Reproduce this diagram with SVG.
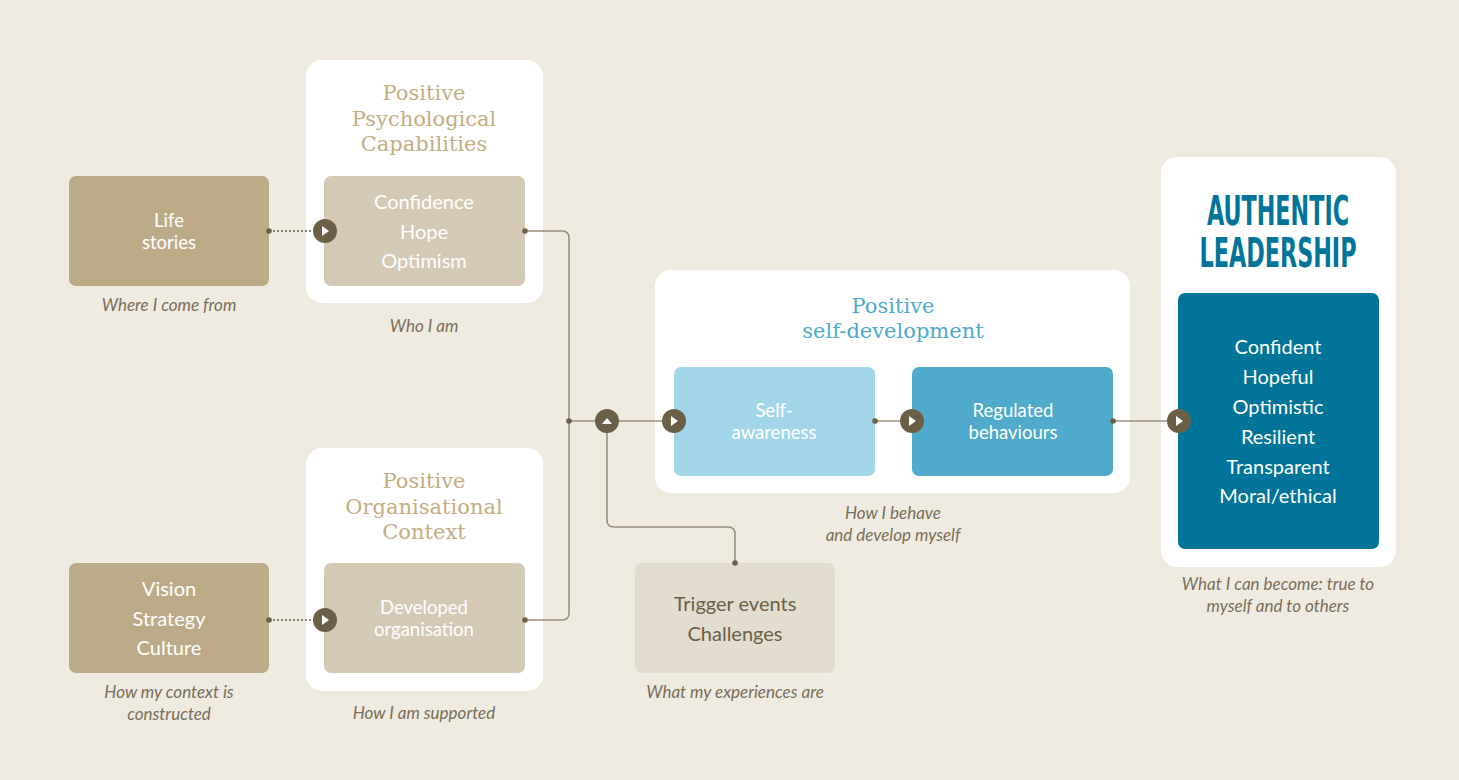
<svg xmlns="http://www.w3.org/2000/svg" width="1459" height="780" viewBox="0 0 1459 780">
<defs>
<style>
.panel{fill:#ffffff}
.tan{fill:#BDAB88}
.ltan{fill:#D4C9B4}
.pale{fill:#E3DDCF}
.t{font-family:Lato,"Open Sans",sans-serif;font-size:20px;text-anchor:middle}
.t2{font-family:Lato,"Open Sans",sans-serif;font-size:18.5px;text-anchor:middle}
.w{fill:#ffffff}
.lbl{font-family:Lato,"Open Sans",sans-serif;font-style:italic;font-size:17px;fill:#7A6E5A;text-anchor:middle}
.hd{font-family:"DejaVu Serif","Liberation Serif",serif;font-size:21px;fill:#C4AD83;text-anchor:middle}
.hdb{font-family:"DejaVu Serif","Liberation Serif",serif;font-size:21px;fill:#4DAACC;text-anchor:middle}
.ln{fill:none;stroke:#9A8F7C;stroke-width:1.6}
.dot{fill:#6B5F48}
.circ{fill:#6B5F48}
.arr{fill:#ffffff}
.al{font-family:"DejaVu Sans Condensed","DejaVu Sans",sans-serif;font-weight:bold;font-size:40px;fill:#007599;text-anchor:middle}
</style>
</defs>
<rect width="1459" height="780" fill="#EFEBE1"/>

<g id="panel-capabilities">
<rect class="panel" x="306" y="60" width="237" height="243" rx="16"/>
<text class="hd" x="424" y="100">Positive</text>
<text class="hd" x="424" y="126">Psychological</text>
<text class="hd" x="424" y="151">Capabilities</text>
<rect class="ltan" x="324" y="176" width="201" height="110" rx="7"/>
<text class="t w" x="424" y="209">Confidence</text>
<text class="t w" x="424" y="239">Hope</text>
<text class="t w" x="424" y="268">Optimism</text>
<text class="lbl" x="424" y="332">Who I am</text>
</g>

<g id="panel-context">
<rect class="panel" x="306" y="448" width="237" height="243" rx="16"/>
<text class="hd" x="424" y="488">Positive</text>
<text class="hd" x="424" y="514">Organisational</text>
<text class="hd" x="424" y="539">Context</text>
<rect class="ltan" x="324" y="563" width="201" height="110" rx="7"/>
<text class="t2 w" x="424" y="614">Developed</text>
<text class="t2 w" x="424" y="636">organisation</text>
<text class="lbl" x="424" y="719">How I am supported</text>
</g>

<g id="life-stories">
<rect class="tan" x="69" y="176" width="200" height="110" rx="7"/>
<text class="t2 w" x="169" y="227">Life</text>
<text class="t2 w" x="169" y="249">stories</text>
<text class="lbl" x="169" y="311">Where I come from</text>
</g>

<g id="vision">
<rect class="tan" x="69" y="563" width="200" height="110" rx="7"/>
<text class="t w" x="169" y="596">Vision</text>
<text class="t w" x="169" y="626">Strategy</text>
<text class="t w" x="169" y="655">Culture</text>
<text class="lbl" x="169" y="698">How my context is</text>
<text class="lbl" x="169" y="720">constructed</text>
</g>

<g id="panel-selfdev">
<rect class="panel" x="655" y="270" width="475" height="223" rx="16"/>
<text class="hdb" x="893" y="313">Positive</text>
<text class="hdb" x="893" y="338">self-development</text>
<rect fill="#A0D6E8" x="674" y="367" width="201" height="109" rx="7"/>
<text class="t2 w" x="774" y="417">Self-</text>
<text class="t2 w" x="774" y="439">awareness</text>
<rect fill="#50AACC" x="912" y="367" width="201" height="109" rx="7"/>
<text class="t2 w" x="1013" y="417">Regulated</text>
<text class="t2 w" x="1013" y="439">behaviours</text>
<text class="lbl" x="893" y="519">How I behave</text>
<text class="lbl" x="893" y="541">and develop myself</text>
</g>

<g id="trigger">
<rect class="pale" x="635" y="563" width="200" height="110" rx="7"/>
<text class="t" fill="#6B5F48" x="735" y="611">Trigger events</text>
<text class="t" fill="#6B5F48" x="735" y="641">Challenges</text>
<text class="lbl" x="735" y="698">What my experiences are</text>
</g>

<g id="panel-authentic">
<rect class="panel" x="1161" y="157" width="235" height="410" rx="16"/>
<text class="al" x="1278" y="225" textLength="142" lengthAdjust="spacingAndGlyphs">AUTHENTIC</text>
<text class="al" x="1278" y="267" textLength="157" lengthAdjust="spacingAndGlyphs">LEADERSHIP</text>
<rect fill="#007599" x="1178" y="293" width="201" height="256" rx="7"/>
<text class="t w" x="1278" y="354">Confident</text>
<text class="t w" x="1278" y="384">Hopeful</text>
<text class="t w" x="1278" y="414">Optimistic</text>
<text class="t w" x="1278" y="444">Resilient</text>
<text class="t w" x="1278" y="474">Transparent</text>
<text class="t w" x="1278" y="503">Moral/ethical</text>
<text class="lbl" x="1278" y="590">What I can become: true to</text>
<text class="lbl" x="1278" y="612">myself and to others</text>
</g>

<g id="connectors">
<line x1="269" y1="231" x2="313" y2="231" stroke="#6B5F48" stroke-width="1.6" stroke-dasharray="2,2"/>
<line x1="269" y1="620" x2="313" y2="620" stroke="#6B5F48" stroke-width="1.6" stroke-dasharray="2,2"/>
<path class="ln" d="M525,231 H562 Q569,231 569,238 V613 Q569,620 562,620 H525"/>
<path class="ln" d="M569,421 H674"/>
<path class="ln" d="M875,421 H912"/>
<path class="ln" d="M1113,421 H1179"/>
<path class="ln" d="M607,421 V520 Q607,527 614,527 H728 Q735,527 735,534 V563"/>
<circle class="dot" cx="269" cy="231" r="2.8"/>
<circle class="dot" cx="269" cy="620" r="2.8"/>
<circle class="dot" cx="525" cy="231" r="2.8"/>
<circle class="dot" cx="525" cy="620" r="2.8"/>
<circle class="dot" cx="569" cy="421" r="2.8"/>
<circle class="dot" cx="735" cy="563" r="2.8"/>
<circle class="dot" cx="875" cy="421" r="2.8"/>
<circle class="dot" cx="1113" cy="421" r="2.8"/>
<circle class="circ" cx="325" cy="231" r="12"/>
<path class="arr" d="M322,226 L329,231 L322,236 Z"/>
<circle class="circ" cx="325" cy="620" r="12"/>
<path class="arr" d="M322,615 L329,620 L322,625 Z"/>
<circle class="circ" cx="607" cy="421" r="12"/>
<path class="arr" d="M602,424 L607,418 L612,424 Z"/>
<circle class="circ" cx="674" cy="421" r="12"/>
<path class="arr" d="M671,416 L678,421 L671,426 Z"/>
<circle class="circ" cx="912" cy="421" r="12"/>
<path class="arr" d="M909,416 L916,421 L909,426 Z"/>
<circle class="circ" cx="1179" cy="421" r="12"/>
<path class="arr" d="M1176,416 L1183,421 L1176,426 Z"/>
</g>
</svg>
